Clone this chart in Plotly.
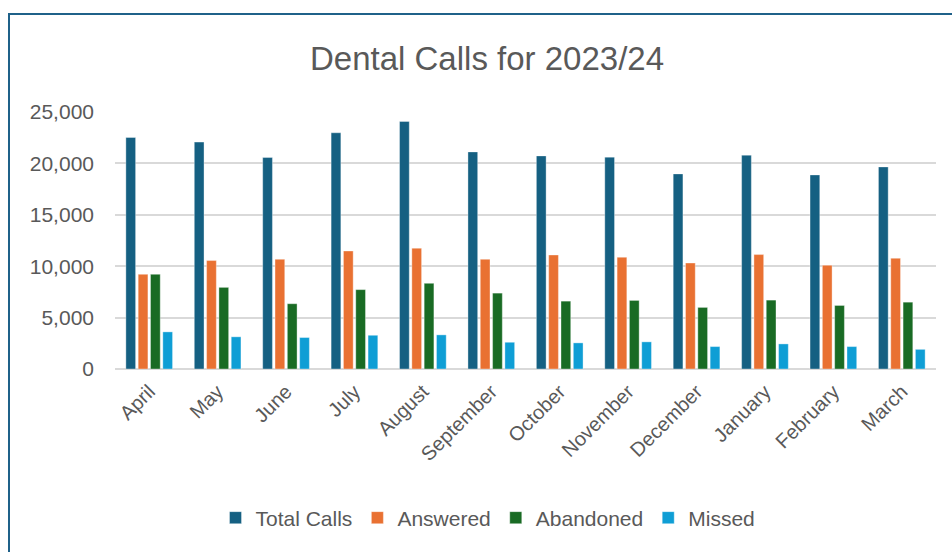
import plotly.graph_objects as go

# Monthly dental call volumes, financial year 2023/24
months = ["April", "May", "June", "July", "August", "September",
          "October", "November", "December", "January", "February", "March"]
total_calls = [22520, 22070, 20570, 22980, 24080, 21120,
               20730, 20610, 18980, 20800, 18880, 19660]
answered = [9210, 10550, 10670, 11480, 11750, 10670,
            11090, 10870, 10310, 11130, 10090, 10770]
abandoned = [9210, 7940, 6350, 7720, 8330, 7380,
             6600, 6670, 5990, 6700, 6180, 6500]
missed = [3610, 3130, 3060, 3280, 3320, 2600,
          2540, 2640, 2180, 2440, 2180, 1910]

series_names = ["Total Calls", "Answered", "Abandoned", "Missed"]
series_values = [total_calls, answered, abandoned, missed]
series_colors = ["#156082", "#E97132", "#196B24", "#0F9ED5"]

FONT = "Liberation Sans"
TEXT = "#595959"

W, H = 952, 552
L, R, T, B = 115, 16, 112, 183
plot_w = W - L - R
plot_h = H - T - B

fig = go.Figure()
for name, vals, color in zip(series_names, series_values, series_colors):
    fig.add_trace(go.Bar(
        x=months, y=vals, name=name,
        marker=dict(color=color, line=dict(color="rgba(255,255,255,0.6)", width=0.6)),
    ))


def px_to_paper_x(px):
    return (px - L) / plot_w


def px_to_paper_y(py):
    return (H - B - py) / plot_h


# Chart-area frame: left and top edges
frame_color = "#1F6189"
fig.add_shape(type="line", xref="paper", yref="paper",
              x0=px_to_paper_x(9), x1=px_to_paper_x(9),
              y0=px_to_paper_y(560), y1=px_to_paper_y(14),
              line=dict(color=frame_color, width=2))
fig.add_shape(type="line", xref="paper", yref="paper",
              x0=px_to_paper_x(8), x1=px_to_paper_x(960),
              y0=px_to_paper_y(14), y1=px_to_paper_y(14),
              line=dict(color=frame_color, width=2))

fig.update_layout(
    width=W, height=H,
    margin=dict(l=L, r=R, t=T, b=B, pad=0),
    paper_bgcolor="white", plot_bgcolor="white",
    barmode="group", bargap=0.28, bargroupgap=0.21,
    font=dict(family=FONT, color=TEXT, size=20),
    title=dict(text="Dental Calls for 2023/24",
               font=dict(family=FONT, size=33, color=TEXT),
               x=487 / W, xanchor="center",
               y=1 - 58 / H, yanchor="middle"),
    xaxis=dict(tickangle=-45, showgrid=False, showline=False, ticks="",
               tickfont=dict(size=20, color=TEXT), ticklabelstandoff=6),
    yaxis=dict(range=[0, 25000], dtick=5000, tickformat=",",
               showgrid=True, gridcolor="#D9D9D9", gridwidth=1.5,
               zeroline=True, zerolinecolor="#D9D9D9", zerolinewidth=1.5,
               showline=False, ticks="", ticklabelstandoff=20,
               tickfont=dict(size=21, color=TEXT)),
    legend=dict(orientation="h", x=px_to_paper_x(488), xanchor="center",
                y=px_to_paper_y(518), yanchor="middle",
                font=dict(size=21, color=TEXT), itemwidth=30,
                bgcolor="rgba(0,0,0,0)"),
    showlegend=True,
)

fig.write_html("out.html")
